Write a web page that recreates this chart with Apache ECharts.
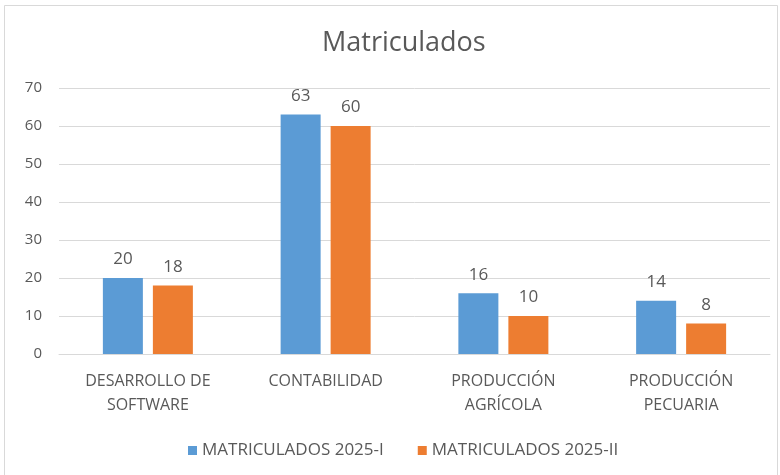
<!DOCTYPE html>
<html>
<head>
<meta charset="utf-8">
<script src="https://cdn.jsdelivr.net/npm/echarts@6/dist/echarts.min.js"></script>
<style>
  html, body { margin: 0; padding: 0; background: #fff; }
  #chart { width: 780px; height: 475px; }
</style>
</head>
<body>
<div id="chart"></div>
<script>
// Matriculados por programa
const categories = ["DESARROLLO DE\nSOFTWARE", "CONTABILIDAD", "PRODUCCIÓN\nAGRÍCOLA", "PRODUCCIÓN\nPECUARIA"];
const seriesNames = ["MATRICULADOS 2025-I", "MATRICULADOS 2025-II"];
const values2025I = [20, 63, 16, 14];
const values2025II = [18, 60, 10, 8];

const textColor = "#595959";
const fontFamily = "'Open Sans', 'Liberation Sans', sans-serif";

const chart = echarts.init(document.getElementById("chart"), null, { renderer: "canvas" });

const option = {
  backgroundColor: "#ffffff",
  animation: false,
  textStyle: { fontFamily: fontFamily, color: textColor },
  graphic: [
    {
      type: "rect",
      shape: { x: 4.5, y: 5.5, width: 773, height: 490 },
      style: { fill: "none", stroke: "#d9d9d9", lineWidth: 1 },
      silent: true,
    },
  ],
  title: {
    text: "Matriculados",
    left: 317,
    top: 25,
    textStyle: { fontFamily: fontFamily, fontSize: 27, fontWeight: "normal", color: textColor },
  },
  legend: {
    data: seriesNames,
    top: 437,
    left: 183,
    itemWidth: 9,
    itemHeight: 9,
    itemGap: 34,
    icon: "rect",
    textStyle: { fontFamily: fontFamily, fontSize: 17, color: textColor },
  },
  grid: { top: 88, bottom: 121, left: 59, right: 10, containLabel: false },
  xAxis: {
    type: "category",
    data: categories,
    axisLine: { lineStyle: { color: "#d9d9d9", width: 1 } },
    axisTick: { show: false },
    axisLabel: {
      color: textColor,
      fontSize: 16,
      fontFamily: fontFamily,
      lineHeight: 24,
      margin: 15,
      interval: 0,
    },
  },
  yAxis: {
    type: "value",
    min: 0,
    max: 70,
    interval: 10,
    axisLine: { show: false },
    axisTick: { show: false },
    axisLabel: { color: textColor, fontSize: 15, fontFamily: fontFamily, margin: 17 },
    splitLine: { lineStyle: { color: "#d9d9d9", width: 1 } },
  },
  series: [
    {
      name: seriesNames[0],
      type: "bar",
      data: values2025I,
      barWidth: 40,
      barGap: "25%",
      itemStyle: { color: "#5b9bd5" },
      label: { show: true, position: "top", distance: 10, color: textColor, fontSize: 17, fontFamily: fontFamily },
    },
    {
      name: seriesNames[1],
      type: "bar",
      data: values2025II,
      barWidth: 40,
      barGap: "25%",
      itemStyle: { color: "#ed7d31" },
      label: { show: true, position: "top", distance: 10, color: textColor, fontSize: 17, fontFamily: fontFamily },
    },
  ],
};

chart.setOption(option);
</script>
</body>
</html>
